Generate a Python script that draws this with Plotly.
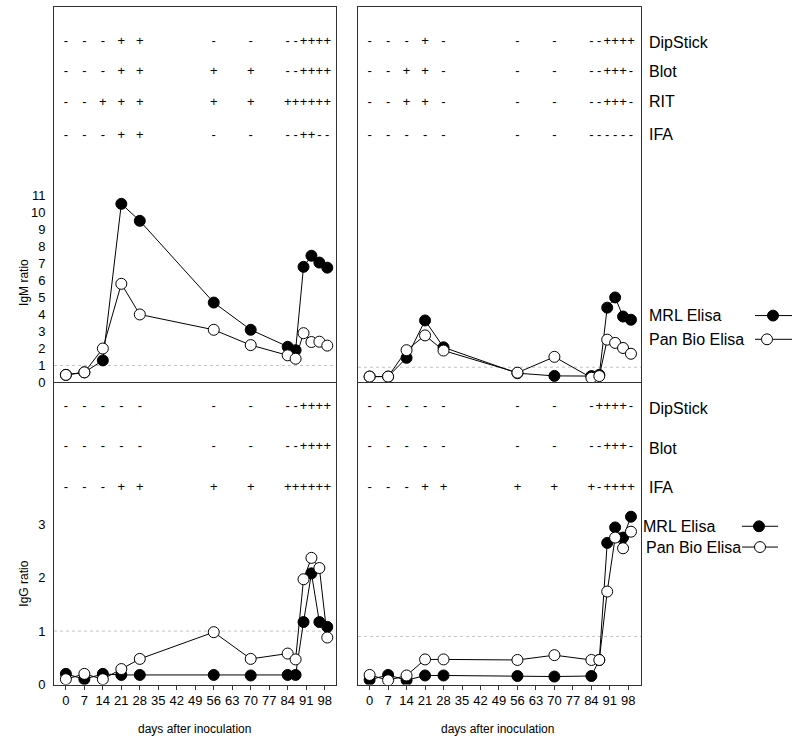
import plotly.graph_objects as go

W, H = 800, 744

# ---------------- data ----------------
days = [0, 7, 14, 21, 28, 56, 70, 84, 87, 90, 93, 96, 99]
x_ticks = [0, 7, 14, 21, 28, 35, 42, 49, 56, 63, 70, 77, 84, 91, 98]
igm_ticks = list(range(0, 12))
igg_ticks = [0, 1, 2, 3]

# IgM ratio, left patient
igm_mrl_left = [0.45, 0.6, 1.3, 10.5, 9.5, 4.7, 3.1, 2.1, 1.9, 6.8, 7.45, 7.05, 6.75]
igm_panbio_left = [0.45, 0.6, 2.0, 5.8, 4.0, 3.1, 2.2, 1.6, 1.4, 2.9, 2.38, 2.4, 2.17]
# IgM ratio, right patient
igm_mrl_right = [0.35, 0.35, 1.45, 3.65, 2.07, 0.55, 0.39, 0.38, 0.45, 4.4, 5.0, 3.88, 3.69]
igm_panbio_right = [0.35, 0.35, 1.9, 2.77, 1.88, 0.58, 1.51, 0.28, 0.38, 2.52, 2.33, 2.03, 1.69]
# IgG ratio, left patient
igg_mrl_left = [0.2, 0.1, 0.2, 0.18, 0.18, 0.18, 0.17, 0.18, 0.18, 1.17, 2.08, 1.17, 1.08]
igg_panbio_left = [0.1, 0.2, 0.1, 0.29, 0.48, 0.98, 0.48, 0.58, 0.47, 1.97, 2.37, 2.18, 0.88]
# IgG ratio, right patient
igg_mrl_right = [0.09, 0.18, 0.08, 0.17, 0.17, 0.16, 0.15, 0.16, 0.46, 2.65, 2.94, 2.75, 3.14]
igg_panbio_right = [0.18, 0.08, 0.17, 0.47, 0.47, 0.46, 0.55, 0.46, 0.46, 1.74, 2.75, 2.55, 2.86]

# cut-off ratios
cutoff_left = 1.0
cutoff_right = 0.9

# qualitative test results (one symbol per sampling day)
igm_left_dipstick = list("---++----++++")
igm_left_blot = list("---++++--++++")
igm_left_rit = list("--+++++++++++")
igm_left_ifa = list("---++----++--")
igm_right_dipstick = list("---+-----++++")
igm_right_blot = list("--++-----+++-")
igm_right_rit = list("--++-----+++-")
igm_right_ifa = list("-------------")
igg_left_dipstick = list("---------++++")
igg_left_blot = list("---------++++")
igg_left_ifa = list("---++++++++++")
igg_right_dipstick = list("--------++++-")
igg_right_blot = list("---------+++-")
igg_right_ifa = list("---+++++-++++")

test_names_igm = ["DipStick", "Blot", "RIT", "IFA"]
test_names_igg = ["DipStick", "Blot", "IFA"]

# ---------------- layout constants (window pixel -> paper) ----------------
def px(x):
    return min(max(x / W, 0.0), 1.0)

def py(y):
    return min(max(1 - y / H, 0.0), 1.0)

LX = [px(54), px(336)]
RX = [px(358), px(641)]
TOPY = [py(386.7), py(7)]
BOTY = [py(692), py(386.7)]
XR_L = [-4.5, 102.3]
XR_R = [-4.4, 102.8]
YR_IGM = [0, 22.07]
YR_IGG = [0, 5.65]
ROWS_IGM = [20.0, 18.24, 16.46, 14.5]
ROWS_IGG = [5.19, 4.44, 3.68]

NARROW = "Liberation Sans Narrow, Arial Narrow, Liberation Sans, Arial"
SANS = "Liberation Sans, Arial, sans-serif"
LINEC = "#333333"

fig = go.Figure()

def add_series(xa, ya, mrl, pan):
    fig.add_trace(go.Scatter(x=days, y=mrl, mode="lines+markers", xaxis=xa, yaxis=ya,
                             line=dict(color="black", width=1),
                             marker=dict(symbol="circle", size=11, color="black",
                                         line=dict(color="black", width=1)),
                             showlegend=False, name="MRL Elisa"))
    fig.add_trace(go.Scatter(x=days, y=pan, mode="lines+markers", xaxis=xa, yaxis=ya,
                             line=dict(color="black", width=1),
                             marker=dict(symbol="circle", size=11, color="white",
                                         line=dict(color="black", width=1)),
                             showlegend=False, name="Pan Bio Elisa"))

def add_rows(xa, ya, rows, levels):
    for r, lv in zip(rows, levels):
        fig.add_trace(go.Scatter(x=days, y=[lv] * len(days), mode="text", text=r,
                                 xaxis=xa, yaxis=ya, showlegend=False, hoverinfo="skip",
                                 textfont=dict(family=SANS, size=13, color="black")))

def add_cutoff(xa, ya, level, xr):
    fig.add_trace(go.Scatter(x=xr, y=[level, level], mode="lines", xaxis=xa, yaxis=ya,
                             line=dict(color="#c4c4c4", width=1, dash="dot"),
                             showlegend=False, hoverinfo="skip"))

add_cutoff("x", "y", cutoff_left, XR_L)
add_cutoff("x2", "y2", cutoff_right, XR_R)
add_cutoff("x3", "y3", cutoff_left, XR_L)
add_cutoff("x4", "y4", cutoff_right, XR_R)

add_series("x", "y", igm_mrl_left, igm_panbio_left)
add_series("x2", "y2", igm_mrl_right, igm_panbio_right)
add_series("x3", "y3", igg_mrl_left, igg_panbio_left)
add_series("x4", "y4", igg_mrl_right, igg_panbio_right)

add_rows("x", "y", [igm_left_dipstick, igm_left_blot, igm_left_rit, igm_left_ifa], ROWS_IGM)
add_rows("x2", "y2", [igm_right_dipstick, igm_right_blot, igm_right_rit, igm_right_ifa], ROWS_IGM)
add_rows("x3", "y3", [igg_left_dipstick, igg_left_blot, igg_left_ifa], ROWS_IGG)
add_rows("x4", "y4", [igg_right_dipstick, igg_right_blot, igg_right_ifa], ROWS_IGG)

def xaxis(domain, rng, anchor, labels):
    d = dict(domain=domain, range=rng, anchor=anchor, showgrid=False, zeroline=False,
             showline=True, linecolor=LINEC, linewidth=1,
             tickvals=x_ticks, fixedrange=True)
    if labels:
        d.update(mirror=True, ticks="outside", ticklen=4, tickcolor=LINEC,
                 showticklabels=True, tickfont=dict(family=NARROW, size=13, color="black"))
    else:
        # top panels: only the top border; the shared middle line comes from the lower panel
        d.update(side="top", mirror=False, ticks="", showticklabels=False)
    return d

def yaxis(domain, rng, anchor, tv, labels):
    d = dict(domain=domain, range=rng, anchor=anchor, showgrid=False, zeroline=False,
             showline=True, linecolor=LINEC, linewidth=1, mirror=True, tickvals=tv,
             ticks="", fixedrange=True, showticklabels=labels,
             tickfont=dict(family=NARROW, size=13, color="black"),
             ticklabelstandoff=5)
    return d

shapes = []
annotations = []

def label(text, x, y, size=16, xanchor="left", angle=0, family=SANS):
    annotations.append(dict(text=text, x=px(x), y=py(y), xref="paper", yref="paper",
                            xanchor=xanchor, yanchor="middle", showarrow=False,
                            textangle=angle, font=dict(family=family, size=size, color="black")))

for name, yv in zip(test_names_igm, [42.7, 72.7, 103, 135.5]):
    label(name, 647, yv)
for name, yv in zip(test_names_igg, [412.5, 453, 493]):
    label(name, 647, yv)

def legend_entry(text, tx, y, lx0, lx1, cx, filled):
    label(text, tx, y)
    shapes.append(dict(type="line", xref="paper", yref="paper", x0=px(lx0), x1=px(lx1),
                       y0=py(y), y1=py(y), line=dict(color="black", width=1)))
    r = 5.5
    shapes.append(dict(type="circle", xref="paper", yref="paper",
                       x0=px(cx - r), x1=px(cx + r), y0=py(y + r), y1=py(y - r),
                       fillcolor="black" if filled else "white",
                       line=dict(color="black", width=1)))

legend_entry("MRL Elisa", 647, 319, 755, 792, 773, True)
legend_entry("Pan Bio Elisa", 647, 343, 755, 792, 767, False)
legend_entry("MRL Elisa", 641, 532, 742, 778, 759, True)
legend_entry("Pan Bio Elisa", 644, 553, 742, 778, 760, False)

label("IgM ratio", 24, 286, size=12, xanchor="center", angle=-90, family=NARROW)
label("IgG ratio", 24, 590, size=12, xanchor="center", angle=-90, family=NARROW)
label("days after inoculation", 194, 737, size=12, xanchor="center", family=NARROW)
label("days after inoculation", 497, 737, size=12, xanchor="center", family=NARROW)

fig.update_layout(
    width=W, height=H, margin=dict(l=0, r=0, t=0, b=0),
    paper_bgcolor="white", plot_bgcolor="white",
    xaxis=xaxis(LX, XR_L, "y", False),
    xaxis2=xaxis(RX, XR_R, "y2", False),
    xaxis3=xaxis(LX, XR_L, "y3", True),
    xaxis4=xaxis(RX, XR_R, "y4", True),
    yaxis=yaxis(TOPY, YR_IGM, "x", igm_ticks, True),
    yaxis2=yaxis(TOPY, YR_IGM, "x2", igm_ticks, False),
    yaxis3=yaxis(BOTY, YR_IGG, "x3", igg_ticks, True),
    yaxis4=yaxis(BOTY, YR_IGG, "x4", igg_ticks, False),
    shapes=shapes, annotations=annotations, showlegend=False,
)

# remove the browser's default 8px page margin so the figure sits at the window origin
fig.write_html("out.html", config={"displayModeBar": False},
               post_script="document.body.style.margin='0';document.body.style.overflow='hidden';")
